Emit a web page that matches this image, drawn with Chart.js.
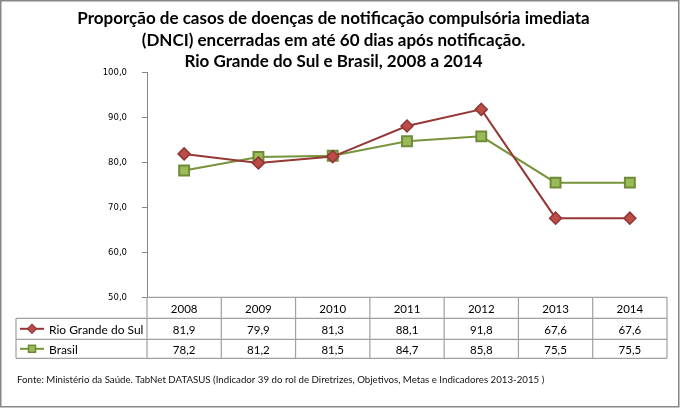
<!DOCTYPE html>
<html>
<head>
<meta charset="utf-8">
<script src="https://cdn.jsdelivr.net/npm/chart.js@4.4.1/dist/chart.umd.min.js"></script>
<style>
html,body{margin:0;padding:0;background:#fff;}
#wrap{width:680px;height:408px;position:relative;}
</style>
</head>
<body>
<div id="wrap"><canvas id="c"></canvas></div>
<script>
// ---- data ----
const years = ['2008', '2009', '2010', '2011', '2012', '2013', '2014'];
const rgsValues = [81.9, 79.9, 81.3, 88.1, 91.8, 67.6, 67.6];
const brasilValues = [78.2, 81.2, 81.5, 84.7, 85.8, 75.5, 75.5];
const seriesNames = ['Rio Grande do Sul', 'Brasil'];
const yMin = 50, yMax = 100, yStep = 10;
const titleLines = [
  'Proporção de casos de doenças de notificação compulsória imediata',
  '(DNCI) encerradas em até 60 dias após notificação.',
  'Rio Grande do Sul e Brasil, 2008 a 2014'
];
const sourceText = 'Fonte: Ministério da Saúde. TabNet DATASUS (Indicador 39 do rol de Diretrizes, Objetivos, Metas e Indicadores 2013-2015 )';

// ---- styles ----
const RGS_LINE = '#953735', RGS_FILL = '#BE4B48', RGS_BORDER = '#8C3836';
const BR_LINE = '#77933C', BR_FILL = '#9BBB59', BR_BORDER = '#6E8B38';
const fmt = v => v.toFixed(1).replace('.', ',');

const tablePlugin = {
  id: 'dataTable',
  afterDraw(chart) {
    const ctx = chart.ctx;
    const xs = chart.scales.x;
    const area = chart.chartArea;
    const n = years.length;
    const colW = (area.right - area.left) / n;
    const top = area.bottom;
    const rowY = [top, top + 21, top + 42, top + 61];
    const tableLeft = 16;
    ctx.save();
    // grid lines
    ctx.strokeStyle = '#a0a0a0';
    ctx.lineWidth = 1.2;
    ctx.beginPath();
    ctx.moveTo(area.left, rowY[0]); ctx.lineTo(area.right, rowY[0]);
    for (let r = 1; r < 4; r++) { ctx.moveTo(tableLeft, rowY[r]); ctx.lineTo(area.right, rowY[r]); }
    for (let i = 0; i <= n; i++) {
      const x = area.left + i * colW;
      ctx.moveTo(x, rowY[0]); ctx.lineTo(x, rowY[3]);
    }
    ctx.moveTo(tableLeft, rowY[1]); ctx.lineTo(tableLeft, rowY[3]);
    ctx.stroke();

    // texts
    ctx.fillStyle = '#000';
    ctx.textAlign = 'center';
    ctx.textBaseline = 'middle';
    ctx.font = '11.5px Lato';
    const rows = [rgsValues, brasilValues];
    for (let i = 0; i < n; i++) {
      const cx = xs.getPixelForValue(i);
      ctx.fillText(years[i], cx, (rowY[0] + rowY[1]) / 2 + 1);
      ctx.fillText(fmt(rows[0][i]), cx, (rowY[1] + rowY[2]) / 2 + 1);
      ctx.fillText(fmt(rows[1][i]), cx, (rowY[2] + rowY[3]) / 2 + 1);
    }
    // legend keys
    const keyX0 = 20, keyX1 = 44, keyC = 32;
    const y1 = (rowY[1] + rowY[2]) / 2, y2 = (rowY[2] + rowY[3]) / 2;
    ctx.lineWidth = 2;
    ctx.strokeStyle = RGS_LINE;
    ctx.beginPath(); ctx.moveTo(keyX0, y1); ctx.lineTo(keyX1, y1); ctx.stroke();
    ctx.fillStyle = RGS_FILL; ctx.strokeStyle = RGS_BORDER; ctx.lineWidth = 1.2;
    ctx.beginPath();
    ctx.moveTo(keyC - 4.5, y1); ctx.lineTo(keyC, y1 - 4.5); ctx.lineTo(keyC + 4.5, y1); ctx.lineTo(keyC, y1 + 4.5); ctx.closePath();
    ctx.fill(); ctx.stroke();
    ctx.lineWidth = 2;
    ctx.strokeStyle = BR_LINE;
    ctx.beginPath(); ctx.moveTo(keyX0, y2); ctx.lineTo(keyX1, y2); ctx.stroke();
    ctx.fillStyle = BR_FILL; ctx.strokeStyle = BR_BORDER; ctx.lineWidth = 1.5;
    ctx.fillRect(keyC - 3.5, y2 - 3.5, 7, 7); ctx.strokeRect(keyC - 3.5, y2 - 3.5, 7, 7);

    ctx.fillStyle = '#000';
    ctx.textAlign = 'left';
    ctx.font = '12px Lato';
    ctx.fillText(seriesNames[0], 49, y1 + 1);
    ctx.fillText(seriesNames[1], 49, y2 + 1);

    // source
    ctx.font = '9.7px Lato';
    ctx.fillStyle = '#111';
    ctx.fillText(sourceText, 17, 380);

    // frame
    ctx.strokeStyle = '#868686';
    ctx.lineWidth = 1.5;
    ctx.strokeRect(0.75, 0.75, 678, 406);
    ctx.restore();
  }
};

new Chart(document.getElementById('c'), {
  type: 'line',
  data: {
    labels: years,
    datasets: [
      {
        label: seriesNames[0], data: rgsValues,
        borderColor: RGS_LINE, borderWidth: 2,
        pointStyle: 'rectRot', pointRadius: 6, pointHoverRadius: 6,
        pointBackgroundColor: RGS_FILL, pointBorderColor: RGS_BORDER, pointBorderWidth: 1.5,
        tension: 0
      },
      {
        label: seriesNames[1], data: brasilValues,
        borderColor: BR_LINE, borderWidth: 2,
        pointStyle: 'rect', pointRadius: 7, pointHoverRadius: 7,
        pointBackgroundColor: BR_FILL, pointBorderColor: BR_BORDER, pointBorderWidth: 2,
        tension: 0
      }
    ]
  },
  options: {
    responsive: true,
    maintainAspectRatio: false,
    animation: false,
    events: [],
    layout: { padding: { left: 0, right: 13, top: 0, bottom: 110.7 } },
    plugins: {
      legend: { display: false },
      tooltip: { enabled: false },
      title: {
        display: true,
        text: titleLines,
        color: '#000',
        font: { family: 'Lato', size: 17, weight: 'bold', lineHeight: 1.265 },
        padding: { top: 8, bottom: 0 }
      }
    },
    scales: {
      x: { type: 'category', offset: true, display: false },
      y: {
        min: yMin, max: yMax,
        afterFit(scale) { scale.width = 147; },
        ticks: {
          stepSize: yStep,
          padding: 15,
          color: '#000',
          font: { family: 'DejaVu Sans', size: 8.5 },
          callback: v => fmt(v)
        },
        grid: { drawOnChartArea: false, drawTicks: true, tickLength: 5, color: '#868686' },
        border: { color: '#868686', width: 1 }
      }
    }
  },
  plugins: [tablePlugin]
});
</script>
</body>
</html>
